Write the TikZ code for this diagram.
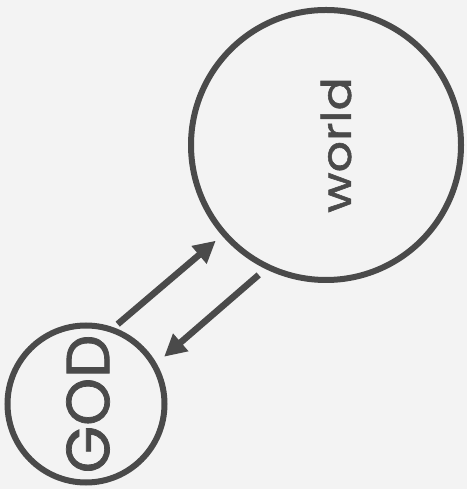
\documentclass[tikz,border=0pt]{standalone}
\usepackage{fontspec}
\setmainfont{Poppins}
\newfontfamily\labelfont{Poppins}[FakeBold=1.2, AutoFakeBold=1.2]
\usepackage{xcolor}
\usepackage{tikz}
\usetikzlibrary{
    positioning,
    arrows.meta,
    calc,
}
\definecolor{inkgray}{HTML}{4A4A4A}
\definecolor{papergray}{HTML}{F3F3F3}
\tikzset{
    % Circle styles
    ring/.style={circle, draw=inkgray, line width=6pt, inner sep=0pt},
    % Text styles
    ring text/.style={rotate=90, text=inkgray, inner sep=0pt},
    % Arrow styles
    arrow/.style={-{Triangle[length=22pt, width=22pt]}, draw=inkgray, line width=6.5pt},
}

\begin{document}
\begin{tikzpicture}[x=1pt, y=1pt]
    % Paper
    \fill[papergray] (0,0) rectangle (467,489);
    \useasboundingbox (0,0) rectangle (467,489);

    % Circles
    \node[ring, minimum size=270pt] (world) at (326,344) {};
    \node[ring, minimum size=157pt] (god) at (86,85) {};

    % Labels
    \node[ring text, xscale=1.2, font=\fontsize{41}{41}\selectfont\labelfont] (worldtext)
        at ([xshift=10pt]world.center) {world};
    \node[ring text, xscale=1.0, font=\fontsize{61}{61}\selectfont\labelfont] (godtext)
        at ([xshift=2pt, yshift=0pt]god.center) {GOD};

    % Arrows
    \draw[arrow, shorten <=5pt, shorten >=8pt] (god.70) -- (world.221);
    \draw[arrow, shorten <=9pt, shorten >=10pt] (world.244) -- (god.30);
\end{tikzpicture}
\end{document}
